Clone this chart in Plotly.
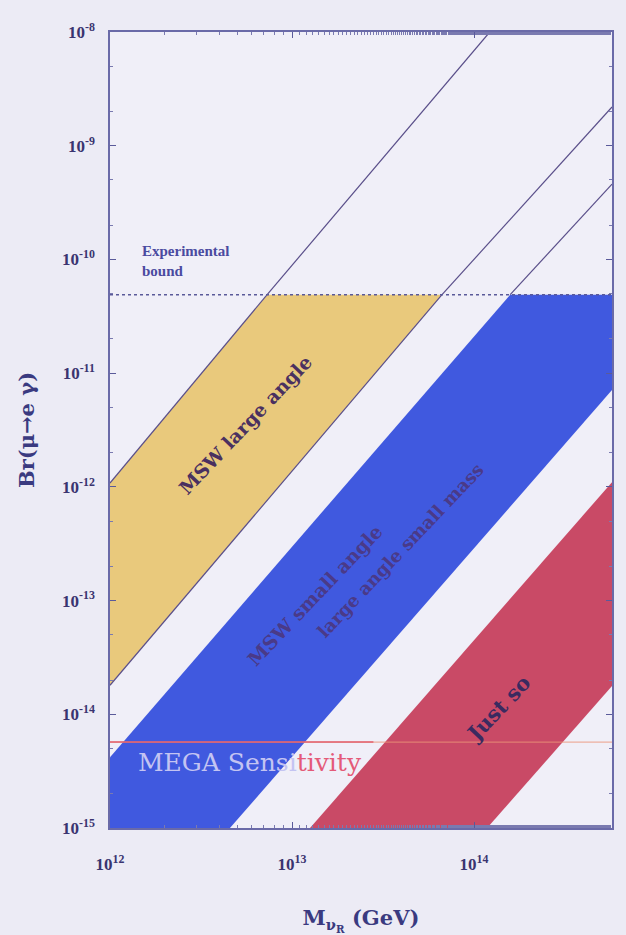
import math
import plotly.graph_objects as go

# ---- data ----
yellow_M = [1e12, 7.3e12, 6.67e13, 1e12]
yellow_Br = [1.08e-12, 4.9e-11, 4.9e-11, 1.8e-14]

blue_M = [1e12, 1.58e14, 5.73e14, 5.73e14, 4.56e12, 1e12]
blue_Br = [4.2e-15, 4.9e-11, 4.9e-11, 7.1e-12, 1e-15, 1e-15]

red_M = [1.256e13, 5.73e14, 5.73e14, 1.18e14]
red_Br = [1e-15, 1.1e-12, 1.77e-14, 1e-15]

lineA_M = [7.3e12, 1.22e14]
lineA_Br = [4.9e-11, 1e-8]
lineB_M = [6.67e13, 5.73e14]
lineB_Br = [4.9e-11, 2.19e-9]
lineC_M = [1.58e14, 5.73e14]
lineC_Br = [4.9e-11, 4.6e-10]

yellow_up_M = [1e12, 7.3e12]
yellow_up_Br = [1.08e-12, 4.9e-11]
yellow_lo_M = [1e12, 6.67e13]
yellow_lo_Br = [1.8e-14, 4.9e-11]

exp_bound = 4.9e-11
mega_sens = 5.7e-15
M_range = [1e12, 5.73e14]
mega_red_M = [1e12, 2.8e13]

y_tickvals = [1e-8, 1e-9, 1e-10, 1e-11, 1e-12, 1e-13, 1e-14, 1e-15]
y_ticktext = ["<b>10<sup>-8</sup></b>", "<b>10<sup>-9</sup></b>", "<b>10<sup>-10</sup></b>",
              "<b>10<sup>-11</sup></b>", "<b>10<sup>-12</sup></b>", "<b>10<sup>-13</sup></b>",
              "<b>10<sup>-14</sup></b>", "<b>10<sup>-15</sup></b>"]
x_tickvals = [1e12, 1e13, 1e14]
x_ticktext = ["<b>10<sup>12</sup></b>", "<b>10<sup>13</sup></b>", "<b>10<sup>14</sup></b>"]

# annotation anchor points (data units)
lbl_exp = (1.46e12, 9.7e-11)
lbl_large = (5.52e12, 3.5e-12)
lbl_small1 = (1.337e13, 1.12e-13)
lbl_small2 = (3.92e13, 2.78e-13)
lbl_just = (1.355e14, 1.135e-14)
lbl_mega = (5.88e12, 3.8e-15)

SERIF = "Liberation Serif, Times New Roman, serif"
WIDE = "DejaVu Serif, serif"
DARK = "#3a3470"
L = math.log10

fig = go.Figure()

fig.add_trace(go.Scatter(x=yellow_M, y=yellow_Br, fill="toself", mode="lines",
                         fillcolor="#e9c97c", line=dict(width=0), hoverinfo="skip"))
fig.add_trace(go.Scatter(x=blue_M, y=blue_Br, fill="toself", mode="lines",
                         fillcolor="#4059df", line=dict(width=0), hoverinfo="skip"))
fig.add_trace(go.Scatter(x=red_M, y=red_Br, fill="toself", mode="lines",
                         fillcolor="#c94a66", line=dict(width=0), hoverinfo="skip"))

for mx, by in [(yellow_up_M, yellow_up_Br), (yellow_lo_M, yellow_lo_Br),
               (lineA_M, lineA_Br), (lineB_M, lineB_Br), (lineC_M, lineC_Br)]:
    fig.add_trace(go.Scatter(x=mx, y=by, mode="lines",
                             line=dict(color="#5a4f8a", width=1.2), hoverinfo="skip"))

fig.add_trace(go.Scatter(x=M_range, y=[exp_bound, exp_bound], mode="lines",
                         line=dict(color="#5a5a9a", width=1.5, dash="dot"), hoverinfo="skip"))
fig.add_trace(go.Scatter(x=M_range, y=[mega_sens, mega_sens], mode="lines",
                         line=dict(color="rgba(236,150,120,0.7)", width=1.3), hoverinfo="skip"))
fig.add_trace(go.Scatter(x=mega_red_M, y=[mega_sens, mega_sens], mode="lines",
                         line=dict(color="#e2606f", width=1.6), hoverinfo="skip"))

ann = []
ann.append(dict(x=L(lbl_exp[0]), y=L(lbl_exp[1]), xref="x", yref="y", xanchor="left",
                yanchor="middle", text="<b>Experimental<br>bound</b>", showarrow=False,
                align="left", font=dict(family=SERIF, size=15, color="#4a4aa0")))
ann.append(dict(x=L(lbl_large[0]), y=L(lbl_large[1]), xref="x", yref="y",
                text="<b>MSW large angle</b>", showarrow=False, textangle=-46.5,
                font=dict(family=WIDE, size=19, color="#4a3060")))
ann.append(dict(x=L(lbl_small1[0]), y=L(lbl_small1[1]), xref="x", yref="y",
                text="<b>MSW small angle</b>", showarrow=False, textangle=-46.5,
                font=dict(family=WIDE, size=19, color="#4a3a88")))
ann.append(dict(x=L(lbl_small2[0]), y=L(lbl_small2[1]), xref="x", yref="y",
                text="<b>large angle small mass</b>", showarrow=False, textangle=-46.5,
                font=dict(family=WIDE, size=18, color="#4a3a88")))
ann.append(dict(x=L(lbl_just[0]), y=L(lbl_just[1]), xref="x", yref="y",
                text="<b>Just so</b>", showarrow=False, textangle=-46.5,
                font=dict(family=WIDE, size=21, color="#3a2a60")))
ann.append(dict(x=L(lbl_mega[0]), y=L(lbl_mega[1]), xref="x", yref="y",
                text="<span style='color:#c4c4f2'>MEGA Sensi</span><span style='color:#e45a78'>tivity</span>",
                showarrow=False, font=dict(family=WIDE, size=25, color="#c4c4f2")))

fig.update_layout(
    width=626, height=935,
    margin=dict(l=110, r=14, t=32, b=107),
    paper_bgcolor="#ecebf5",
    plot_bgcolor="#f0eff8",
    showlegend=False,
    annotations=ann,
    font=dict(family=SERIF, color=DARK),
)

fig.update_xaxes(type="log", range=[12, 14.758], tickvals=x_tickvals, ticktext=x_ticktext,
                 ticks="inside", ticklen=6, tickcolor="#5a5a9a", showgrid=False, zeroline=False,
                 showline=True, linecolor="#6a6aa8", linewidth=1.5, mirror="ticks",
                 automargin=False,
                 tickfont=dict(family=SERIF, size=17, color=DARK), ticklabelstandoff=20,
                 minor=dict(ticks="inside", ticklen=3, tickcolor="#7a7ab0"),
                 title=dict(text="<b>M<sub>ν<sub>R</sub></sub> (GeV)</b>", standoff=40,
                            font=dict(family=WIDE, size=21, color="#3a3a80")))
fig.update_yaxes(type="log", range=[-15, -8], tickvals=y_tickvals, ticktext=y_ticktext,
                 ticks="inside", ticklen=6, tickcolor="#5a5a9a", showgrid=False, zeroline=False,
                 showline=True, linecolor="#6a6aa8", linewidth=1.5, mirror="ticks",
                 automargin=False,
                 tickfont=dict(family=SERIF, size=17, color=DARK), ticklabelstandoff=10,
                 minor=dict(ticks="inside", ticklen=3, tickcolor="#7a7ab0"),
                 title=dict(text="<b>Br(μ→e γ)</b>", standoff=22,
                            font=dict(family=WIDE, size=21, color="#3a3a80")))

fig.write_html("out.html", config={"displayModeBar": False},
               post_script="document.body.style.margin='0';"
                           "document.body.style.background='#ecebf5';")
